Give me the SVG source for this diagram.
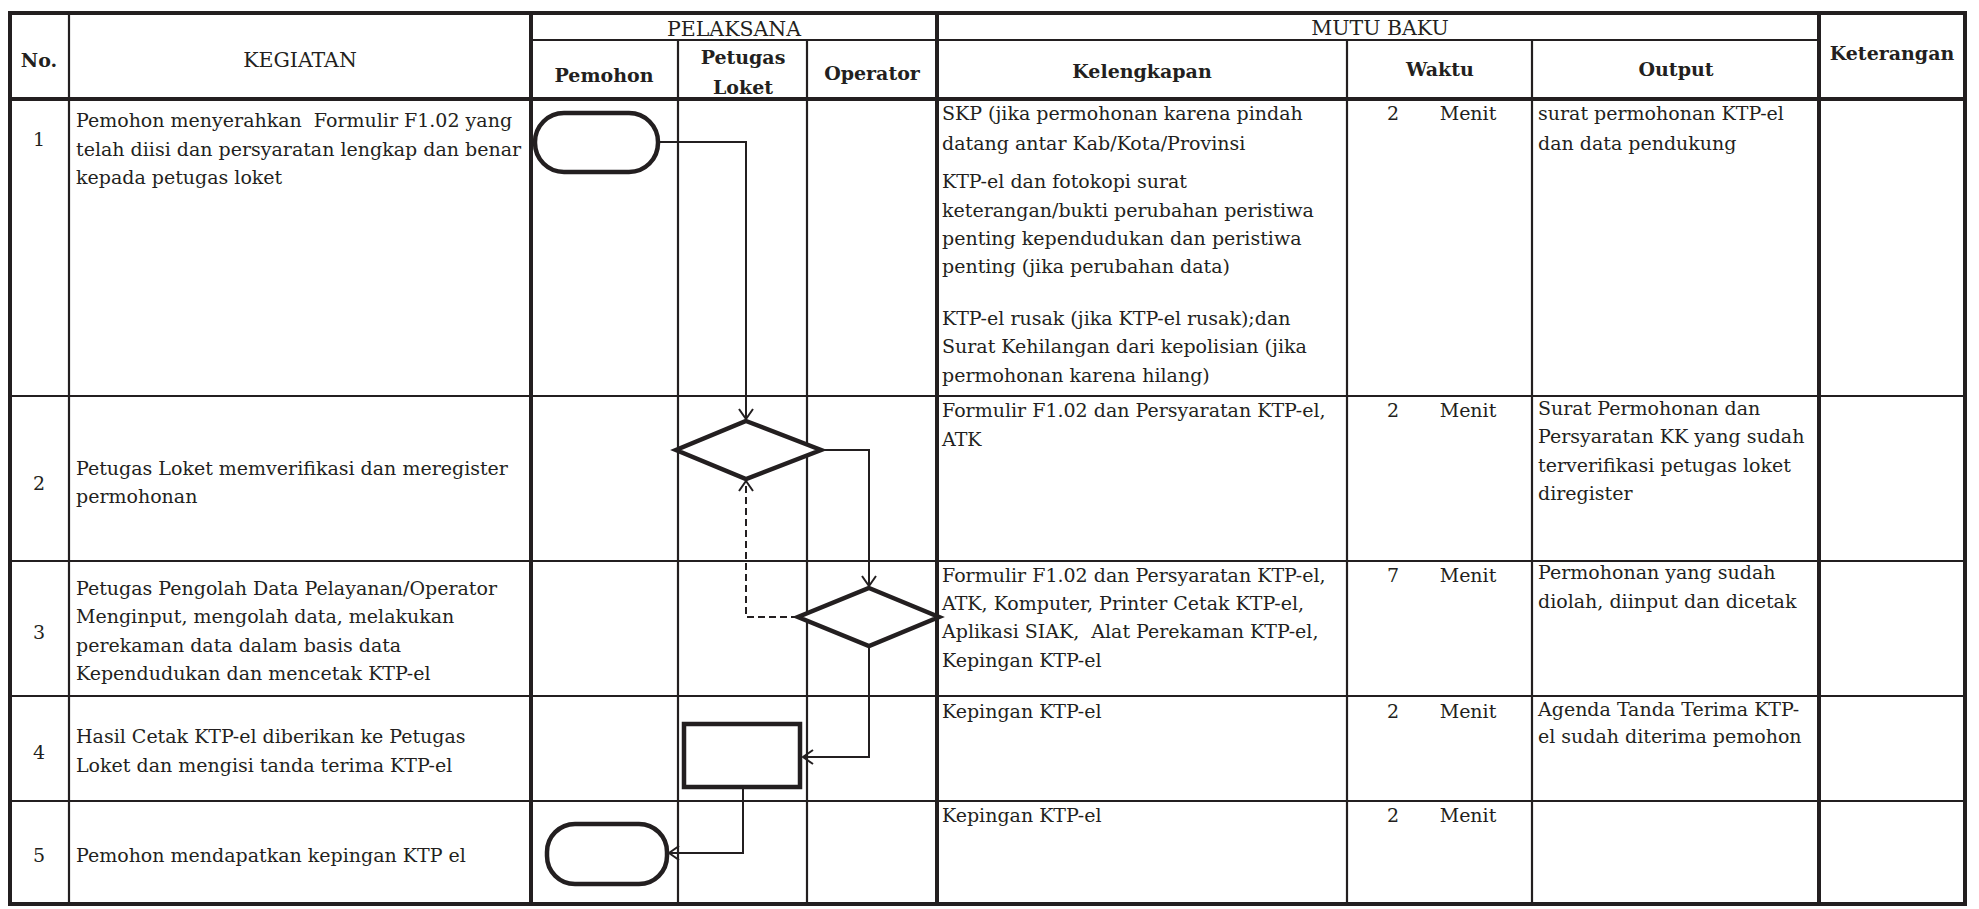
<svg xmlns="http://www.w3.org/2000/svg" width="1979" height="909" viewBox="0 0 1979 909">
<defs>
<style>
text{font-family:"DejaVu Serif","Liberation Serif",serif;font-size:19px;fill:#231f20}
.c{text-anchor:middle}
.u{text-anchor:middle;font-size:20.5px}
.b{font-weight:bold;text-anchor:middle}
.thick{stroke:#231f20;stroke-width:4;fill:none}
.thin{stroke:#231f20;stroke-width:2.2;fill:none}
.shape{stroke:#231f20;stroke-width:4.5;fill:#fff}
.conn{stroke:#231f20;stroke-width:2;fill:none}
.dash{stroke-dasharray:7 4}
</style>
<marker id="arr" markerUnits="userSpaceOnUse" markerWidth="16" markerHeight="16" refX="12" refY="8" orient="auto">
<path d="M2,1 L12,8 L2,15" fill="none" stroke="#231f20" stroke-width="2"/>
</marker>
</defs>
<rect width="1979" height="909" fill="#fff"/>

<g id="table">
<rect x="10" y="13" width="1955" height="891" class="thick"/>
<line x1="531" y1="40" x2="1819" y2="40" class="thin"/>
<line x1="10" y1="99" x2="1965" y2="99" class="thick"/>
<line x1="10" y1="396" x2="1965" y2="396" class="thin"/>
<line x1="10" y1="561" x2="1965" y2="561" class="thin"/>
<line x1="10" y1="696" x2="1965" y2="696" class="thin"/>
<line x1="10" y1="801" x2="1965" y2="801" class="thin"/>
<line x1="69" y1="13" x2="69" y2="904" class="thin"/>
<line x1="531" y1="13" x2="531" y2="904" class="thick"/>
<line x1="678" y1="40" x2="678" y2="904" class="thin"/>
<line x1="807" y1="40" x2="807" y2="904" class="thin"/>
<line x1="937" y1="13" x2="937" y2="904" class="thick"/>
<line x1="1347" y1="40" x2="1347" y2="904" class="thin"/>
<line x1="1532" y1="40" x2="1532" y2="904" class="thin"/>
<line x1="1819" y1="13" x2="1819" y2="904" class="thick"/>
</g>

<g id="header">
<text class="b" x="39" y="67">No.</text>
<text class="u" x="300" y="67">KEGIATAN</text>
<text class="u" x="734" y="36">PELAKSANA</text>
<text class="u" x="1380" y="35">MUTU BAKU</text>
<text class="b" x="604" y="82">Pemohon</text>
<text class="b" x="743" y="64">Petugas</text>
<text class="b" x="743" y="94">Loket</text>
<text class="b" x="872" y="80">Operator</text>
<text class="b" x="1142" y="78">Kelengkapan</text>
<text class="b" x="1440" y="76">Waktu</text>
<text class="b" x="1676" y="76">Output</text>
<text class="b" x="1892" y="60">Keterangan</text>
</g>

<g id="row1">
<text class="c" x="39" y="146">1</text>
<text x="76" y="127" xml:space="preserve">Pemohon menyerahkan  Formulir F1.02 yang</text>
<text x="76" y="156">telah diisi dan persyaratan lengkap dan benar</text>
<text x="76" y="184">kepada petugas loket</text>
<text x="942" y="120">SKP (jika permohonan karena pindah</text>
<text x="942" y="150">datang antar Kab/Kota/Provinsi</text>
<text x="942" y="188">KTP-el dan fotokopi surat</text>
<text x="942" y="217">keterangan/bukti perubahan peristiwa</text>
<text x="942" y="245">penting kependudukan dan peristiwa</text>
<text x="942" y="273">penting (jika perubahan data)</text>
<text x="942" y="325">KTP-el rusak (jika KTP-el rusak);dan</text>
<text x="942" y="353">Surat Kehilangan dari kepolisian (jika</text>
<text x="942" y="382">permohonan karena hilang)</text>
<text class="c" x="1393" y="120">2</text>
<text class="c" x="1468" y="120">Menit</text>
<text x="1538" y="120">surat permohonan KTP-el</text>
<text x="1538" y="150">dan data pendukung</text>
</g>

<g id="row2">
<text class="c" x="39" y="490">2</text>
<text x="76" y="475">Petugas Loket memverifikasi dan meregister</text>
<text x="76" y="503">permohonan</text>
<text x="942" y="417">Formulir F1.02 dan Persyaratan KTP-el,</text>
<text x="942" y="446">ATK</text>
<text class="c" x="1393" y="417">2</text>
<text class="c" x="1468" y="417">Menit</text>
<text x="1538" y="415">Surat Permohonan dan</text>
<text x="1538" y="443">Persyaratan KK yang sudah</text>
<text x="1538" y="472">terverifikasi petugas loket</text>
<text x="1538" y="500">diregister</text>
</g>

<g id="row3">
<text class="c" x="39" y="639">3</text>
<text x="76" y="595">Petugas Pengolah Data Pelayanan/Operator</text>
<text x="76" y="623">Menginput, mengolah data, melakukan</text>
<text x="76" y="652">perekaman data dalam basis data</text>
<text x="76" y="680">Kependudukan dan mencetak KTP-el</text>
<text x="942" y="582">Formulir F1.02 dan Persyaratan KTP-el,</text>
<text x="942" y="610">ATK, Komputer, Printer Cetak KTP-el,</text>
<text x="942" y="638" xml:space="preserve">Aplikasi SIAK,  Alat Perekaman KTP-el,</text>
<text x="942" y="667">Kepingan KTP-el</text>
<text class="c" x="1393" y="582">7</text>
<text class="c" x="1468" y="582">Menit</text>
<text x="1538" y="579">Permohonan yang sudah</text>
<text x="1538" y="608">diolah, diinput dan dicetak</text>
</g>

<g id="row4">
<text class="c" x="39" y="759">4</text>
<text x="76" y="743">Hasil Cetak KTP-el diberikan ke Petugas</text>
<text x="76" y="772">Loket dan mengisi tanda terima KTP-el</text>
<text x="942" y="718">Kepingan KTP-el</text>
<text class="c" x="1393" y="718">2</text>
<text class="c" x="1468" y="718">Menit</text>
<text x="1538" y="716">Agenda Tanda Terima KTP-</text>
<text x="1538" y="743">el sudah diterima pemohon</text>
</g>

<g id="row5">
<text class="c" x="39" y="862">5</text>
<text x="76" y="862">Pemohon mendapatkan kepingan KTP el</text>
<text x="942" y="822">Kepingan KTP-el</text>
<text class="c" x="1393" y="822">2</text>
<text class="c" x="1468" y="822">Menit</text>
</g>

<g id="connectors">
<polyline class="conn" points="658,142 746,142 746,419" marker-end="url(#arr)"/>
<polyline class="conn" points="821,450 869,450 869,586" marker-end="url(#arr)"/>
<polyline class="conn dash" points="798,617 746,617 746,481" marker-end="url(#arr)"/>
<polyline class="conn" points="869,646 869,757 803,757" marker-end="url(#arr)"/>
<polyline class="conn" points="743,787 743,853 669,853" marker-end="url(#arr)"/>
</g>

<g id="node-start">
<rect class="shape" x="535" y="113" width="123" height="59" rx="29"/>
</g>
<g id="node-verify">
<polygon class="shape" points="746,421 821,450 746,479 676,450"/>
</g>
<g id="node-process">
<polygon class="shape" points="869,588 939,617 869,646 798,617"/>
</g>
<g id="node-print">
<rect class="shape" x="684" y="724" width="116" height="63"/>
</g>
<g id="node-end">
<rect class="shape" x="547" y="824" width="120" height="60" rx="28"/>
</g>
</svg>
